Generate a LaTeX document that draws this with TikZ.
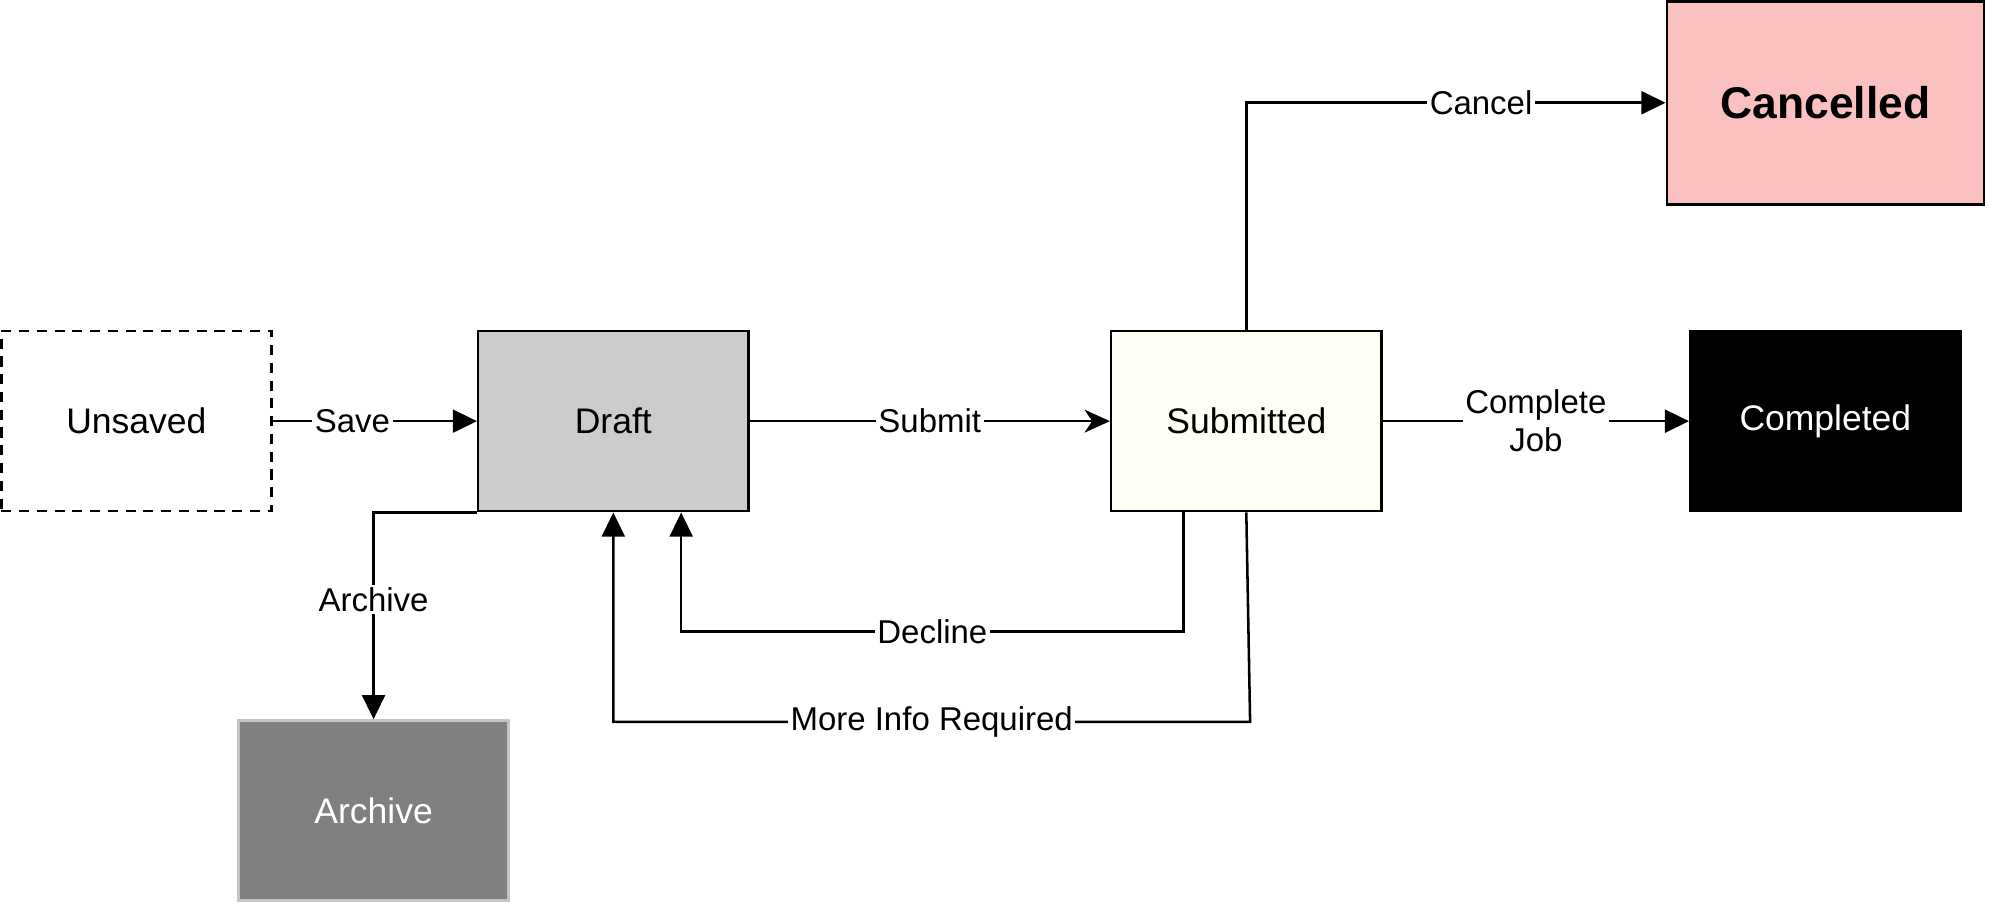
\documentclass[tikz,border=0pt]{standalone}
\usepackage{fontspec}
\setmainfont{Liberation Sans}
\usetikzlibrary{arrows.meta,calc}
\definecolor{draftgray}{HTML}{CCCCCC}
\definecolor{submitfill}{HTML}{FFFFF5}
\definecolor{cancelfill}{HTML}{FBC1C1}
\definecolor{archivefill}{HTML}{808080}
\definecolor{archiveline}{HTML}{C4C4C4}
\tikzset{
        statebox/.style={rectangle, draw=black, line width=1pt, inner sep=0pt, align=center,
                minimum width=106.5pt, minimum height=71pt, font=\fontsize{14}{17}\selectfont},
        % Unsaved state
        state_unsaved/.style={statebox, dash pattern=on 4pt off 3pt},
        % Draft state
        state_draft/.style={statebox, fill=draftgray},
        % Submitted state
        state_submitted/.style={statebox, fill=submitfill},
        % Final states
        state_completed/.style={statebox, fill=black, text=white},
        state_cancelled/.style={statebox, fill=cancelfill, minimum width=125pt, minimum height=80pt,
                font=\fontsize{17.5}{20}\selectfont\bfseries},
        state_archive/.style={statebox, draw=archiveline, fill=archivefill, text=white},
        % Transitions
        flow/.style={line width=1pt, -{Triangle[length=9.5pt,width=9pt]}},
        flow_open/.style={line width=1pt, -{Stealth[length=10pt,width=9pt,inset=3pt]}},
        lbl/.style={fill=white, inner sep=1pt, align=center, font=\fontsize{13}{15}\selectfont}
}
\begin{document}
\begin{tikzpicture}[x=0.5pt, y=-0.5pt]
    \useasboundingbox (0,0) rectangle (1568,714);
    % States
    \node[state_unsaved] (Unsaved) at (107.5,332) {Unsaved};
    \node[state_draft] (Draft) at (483.5,332) {Draft};
    \node[state_submitted] (Submitted) at (982.5,332) {Submitted};
    \node[state_completed] (Completed) at (1439,332) {Completed};
    \node[state_cancelled] (Cancelled) at (1439,81) {Cancelled};
    \node[state_archive] (Archive) at (294.5,639) {Archive};
    % Transitions
    \draw[flow] (Unsaved) -- node[lbl, pos=0.39] {Save} (Draft);
    \draw[flow_open] (Draft) -- node[lbl] {Submit} (Submitted);
    \draw[flow] (Submitted) -- node[lbl] {Complete\\Job} (Completed);
    \draw[flow] (Submitted.north) |- node[lbl, pos=0.78] {Cancel} (Cancelled.west);
    \draw[flow] ($(Submitted.south)+(-49.5,0)$) -- ++(0,94)
        -- node[lbl] {Decline} ($(Draft.south)+(53.5,94)$) -- ($(Draft.south)+(53.5,0)$);
    \draw[flow] (Submitted.south) -- ($(Submitted.south)+(3,165)$)
        -- node[lbl] {More Info Required} ($(Draft.south)+(0,165)$) -- (Draft.south);
    \draw[flow] (Draft.south west) -| node[lbl, pos=0.71] {Archive} (Archive.north);
\end{tikzpicture}
\end{document}
